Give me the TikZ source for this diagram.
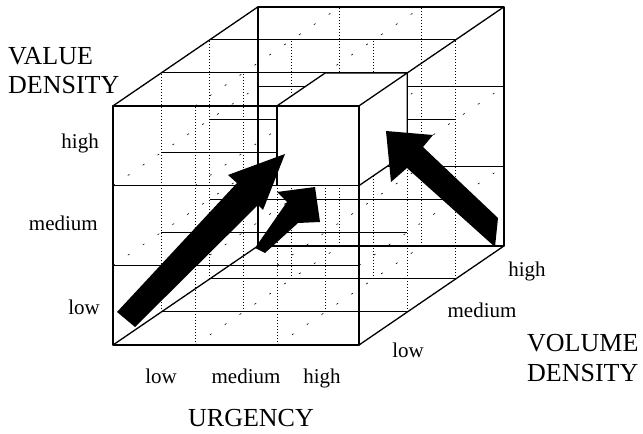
\documentclass[tikz,border=0pt]{standalone}
\usepackage{fontspec}
\setmainfont{Liberation Serif}
\begin{document}
\begin{tikzpicture}[x=1pt,y=1pt,
  cubeedge/.style={line width=1.3pt, line join=round},
  hline/.style={line width=1pt},
  vline/.style={line width=0.9pt, dash pattern=on 1pt off 2pt},
  dline/.style={line width=0.6pt, dash pattern=on 2pt off 16pt},
  lab/.style={font=\fontsize{21}{21}\selectfont, inner sep=0pt},
  ttl/.style={font=\fontsize{26}{26}\selectfont, inner sep=0pt},
  blockarrow/.style={fill=black}]
\useasboundingbox (0,0) rectangle (643,434);
\begin{scope}[shift={(113pt,89pt)}, x={(82pt,0pt)}, y={(0pt,79.7pt)}, z={(48.3pt,33pt)}]
  % interior grid
  \foreach \p in {0,1,2,3} \foreach \q in {0,1,2,3} {
    \draw[hline] (0,\p,\q) -- (3,\p,\q);
    \draw[vline] (\p,0,\q) -- (\p,3,\q);
    \draw[dline] (\p,\q,0) -- (\p,\q,3);
  }
  % cube edges
  \draw[cubeedge] (0,0,0) rectangle (3,3,0);
  \draw[cubeedge] (0,0,3) -- (3,0,3) -- (3,3,3) -- (0,3,3) -- cycle;
  \draw[cubeedge] (0,0,0) -- (0,0,3) (3,0,0) -- (3,0,3) (3,3,0) -- (3,3,3) (0,3,0) -- (0,3,3);
  % small cube (high urgency, high value, low volume)
  \fill[white] (2,2,0) -- (3,2,0) -- (3,2,1) -- (3,3,1) -- (2,3,1) -- (2,3,0) -- cycle;
  \draw[cubeedge] (2,2,0) -- (3,2,0) -- (3,3,0) -- (2,3,0) -- cycle;
  \draw[cubeedge] (2,3,0) -- (2,3,1) -- (3,3,1) -- (3,3,0);
  \draw[cubeedge] (3,2,0) -- (3,2,1) -- (3,3,1);
\end{scope}
% block arrows
\fill[blockarrow] (117,122) -- (237,251) -- (228,259) -- (285,280) -- (263,224) -- (258,229) -- (135,107) -- cycle;
\fill[blockarrow] (255,186) -- (287,232) -- (277,242) -- (315,247) -- (320,212) -- (298,211) -- (265,181) -- cycle;
\fill[blockarrow] (386,303) -- (433,299) -- (423,287) -- (498,216) -- (495,187) -- (407,266) -- (391,252) -- cycle;
% labels
\node[ttl, anchor=base west] (vd1) at (8,369) {VALUE};
\node[ttl, anchor=base west] (vd2) at (8,340) {DENSITY};
\node[lab, anchor=base east] (vhigh) at (99,285) {high};
\node[lab, anchor=base east] (vmed) at (98,203) {medium};
\node[lab, anchor=base east] (vlow) at (100,119) {low};
\node[lab, anchor=base] (ulow) at (161,50) {low};
\node[lab, anchor=base] (umed) at (246,50) {medium};
\node[lab, anchor=base] (uhigh) at (322,50) {high};
\node[ttl, anchor=base] (urg) at (251,7) {URGENCY};
\node[lab, anchor=base] (wlow) at (408,76) {low};
\node[lab, anchor=base] (wmed) at (482,116) {medium};
\node[lab, anchor=base] (whigh) at (527,157) {high};
\node[ttl, anchor=base west] (vo1) at (527,82) {VOLUME};
\node[ttl, anchor=base west] (vo2) at (527,52) {DENSITY};
\end{tikzpicture}
\end{document}
